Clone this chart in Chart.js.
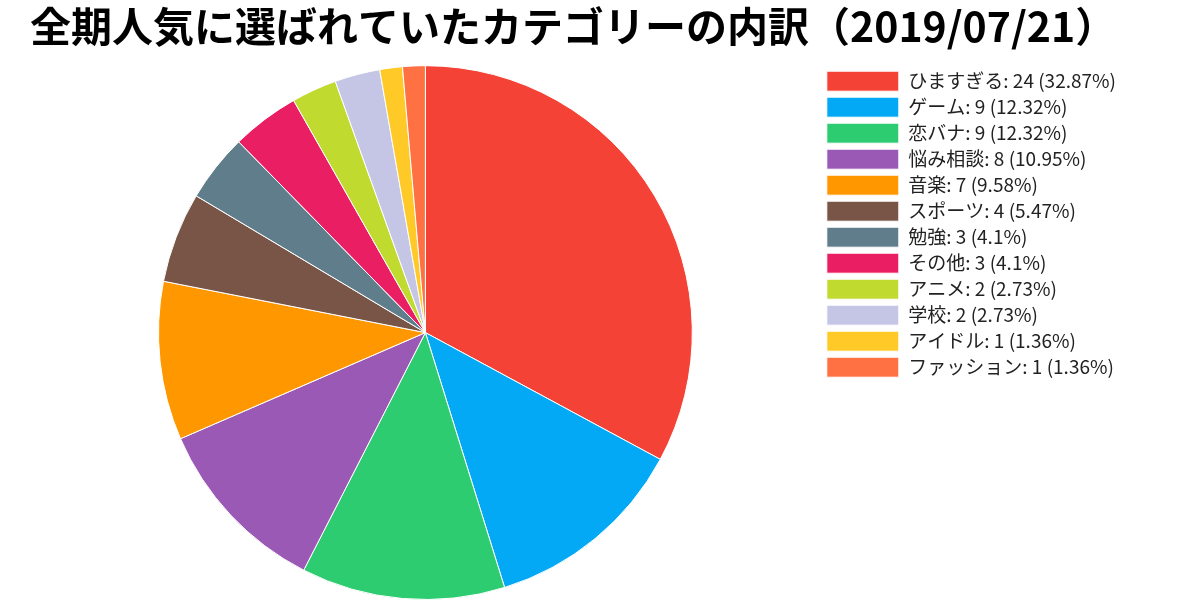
<!DOCTYPE html>
<html>
<head>
<meta charset="utf-8">
<script src="https://cdn.jsdelivr.net/npm/chart.js@4"></script>
<style>
  html, body { margin: 0; padding: 0; background: #fff; }
  #wrap { width: 1200px; height: 600px; position: relative; }
</style>
</head>
<body>
<div id="wrap"><canvas id="pieChart"></canvas></div>
<script>
const categories = ["ひますぎる", "ゲーム", "恋バナ", "悩み相談", "音楽", "スポーツ", "勉強", "その他", "アニメ", "学校", "アイドル", "ファッション"];
const counts = [24, 9, 9, 8, 7, 4, 3, 3, 2, 2, 1, 1];
const percentLabels = ["32.87%", "12.32%", "12.32%", "10.95%", "9.58%", "5.47%", "4.1%", "4.1%", "2.73%", "2.73%", "1.36%", "1.36%"];
const sliceColors = ["#F44336", "#03A9F4", "#2ECC71", "#9B59B6", "#FF9800", "#795548", "#607D8B", "#E91E63", "#C0DA30", "#C5C5E6", "#FFCA28", "#FF7043"];

const fontFamily = "'Noto Sans CJK JP', 'Noto Sans', sans-serif";

function makePie() {
    let ctx = document.getElementById("pieChart").getContext("2d");
    window.pieChart = new Chart(ctx, {
        type: "pie",
        data: {
            labels: categories.map(function(c, i) {
                return c + ": " + counts[i] + " (" + percentLabels[i] + ")";
            }),
            datasets: [{
                data: counts,
                backgroundColor: sliceColors,
                borderColor: "#ffffff",
                borderWidth: 1
            }]
        },
        options: {
            responsive: true,
            maintainAspectRatio: false,
            animation: false,
            layout: { padding: { left: 30, right: 74, bottom: 0, top: 0 } },
            plugins: {
                title: {
                    display: true,
                    text: "全期人気に選ばれていたカテゴリーの内訳（2019/07/21）",
                    color: "#000",
                    align: "start",
                    font: { family: fontFamily, size: 41, weight: "bold" },
                    padding: { top: 2, bottom: 14 }
                },
                legend: {
                    position: "right",
                    align: "start",
                    fullSize: false,
                    labels: {
                        boxWidth: 72,
                        boxHeight: 20,
                        padding: 6,
                        color: "#222",
                        font: { family: fontFamily, size: 19 }
                    }
                },
                tooltip: { enabled: false }
            }
        }
    });
}
makePie();
</script>
</body>
</html>
